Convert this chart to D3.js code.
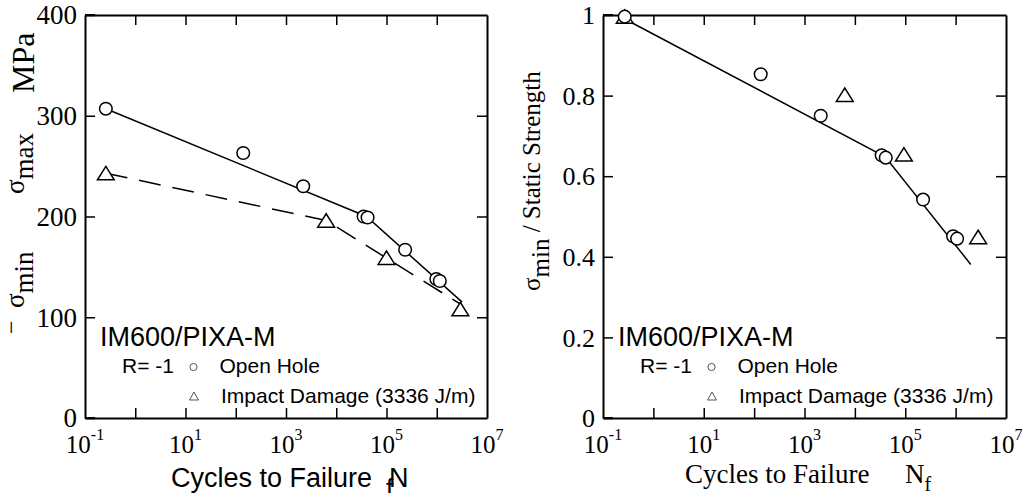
<!DOCTYPE html>
<html>
<head>
<meta charset="utf-8">
<script src="https://cdn.jsdelivr.net/npm/d3@7"></script>
<style>
  body { margin: 0; background: #fff; }
  svg { display: block; }
</style>
</head>
<body>
<svg id="chart" width="1027" height="493"></svg>
<script>
// ---- data ----
// left: stress amplitude (MPa) vs cycles to failure
const leftOpenN = [0.26, 141, 2200, 35000, 42000, 235000, 980000, 1150000];
const leftOpenS = [307, 263, 230, 200, 199, 167, 138, 136];
const leftImpactN = [0.26, 6300, 100000, 2950000];
const leftImpactS = [243, 196, 159, 108];
const leftOpenFitN = [0.26, 40000, 3200000];
const leftOpenFitS = [307, 200, 115];
const leftImpactFitN = [0.26, 6300, 3200000];
const leftImpactFitS = [243, 196, 112];

// right: normalised strength vs cycles to failure
const rightOpenN = [0.27, 135, 2100, 34000, 41000, 226000, 890000, 1070000];
const rightOpenR = [0.996, 0.853, 0.750, 0.652, 0.646, 0.542, 0.451, 0.445];
const rightImpactN = [0.27, 6300, 94000, 2800000];
const rightImpactR = [0.996, 0.802, 0.654, 0.449];
const rightFitN = [0.27, 40000, 2000000];
const rightFitR = [0.99, 0.648, 0.381];

const xDecades = [1, 10, 100, 1e3, 1e4, 1e5, 1e6];
const xLabelExp = [-1, 1, 3, 5, 7];
const leftYTicks = [0, 100, 200, 300, 400];
const leftYLabels = ['0', '100', '200', '300', '400'];
const rightYTicks = [0, 0.2, 0.4, 0.6, 0.8, 1];
const rightYLabels = ['0', '0.2', '0.4', '0.6', '0.8', '1'];

const serif = '"Liberation Serif", "Times New Roman", serif';
const sans = '"Liberation Sans", Arial, sans-serif';
const plotTop = 15, plotBottom = 418;

const svg = d3.select('#chart');

function zip(a, b) { return a.map((v, i) => [v, b[i]]); }

function panel(o) {
  const x = d3.scaleLog().domain([0.1, 1e7]).range([o.left, o.right]);
  const y = d3.scaleLinear().domain(o.yDomain).range([plotBottom, plotTop]);
  const g = svg.append('g');

  // frame + inward ticks on all four sides
  const axes = [
    [d3.axisBottom(x).tickValues(xDecades), `translate(0,${plotBottom})`],
    [d3.axisTop(x).tickValues(xDecades), `translate(0,${plotTop})`],
    [d3.axisLeft(y).tickValues(o.yTicks), `translate(${o.left},0)`],
    [d3.axisRight(y).tickValues(o.yTicks.slice(1, -1)), `translate(${o.right},0)`]
  ];
  axes.forEach(([ax, tr]) => {
    const a = g.append('g').attr('transform', tr)
      .call(ax.tickSizeInner(-10).tickSizeOuter(0).tickFormat(''));
    a.select('.domain').attr('stroke', '#000').attr('stroke-width', 2);
    a.selectAll('.tick line').attr('stroke', '#000').attr('stroke-width', 1.5);
    a.selectAll('.tick text').remove();
  });
  // short heavier ticks at the left corners
  g.selectAll('.cornerTick').data([o.yDomain[0], o.yDomain[1]]).enter().append('line')
    .attr('x1', o.left).attr('x2', o.left + 10)
    .attr('y1', d => y(d)).attr('y2', d => y(d))
    .attr('stroke', '#000').attr('stroke-width', 2);

  // x tick labels 10^n
  const xl = g.selectAll('.xlab').data(xLabelExp).enter().append('text')
    .attr('x', d => x(Math.pow(10, d))).attr('y', 453)
    .attr('text-anchor', 'middle')
    .style('font-family', serif).style('font-size', '25px');
  xl.append('tspan').text('10');
  xl.append('tspan').attr('dy', -13).style('font-size', '16px').text(d => d < 0 ? '-' + Math.abs(d) : d);

  // y tick labels
  g.selectAll('.ylab').data(o.yTicks).enter().append('text')
    .attr('x', o.left - 8).attr('y', d => y(d)).attr('dy', '0.35em')
    .attr('text-anchor', 'end')
    .style('font-family', serif).style('font-size', o.yFont)
    .text((d, i) => o.yLabels[i]);

  // fitted lines
  const line = d3.line().x(d => x(d[0])).y(d => y(d[1]));
  o.fits.forEach(f => {
    g.append('path').attr('d', line(f.pts))
      .attr('fill', 'none').attr('stroke', '#000').attr('stroke-width', 1.5)
      .attr('stroke-dasharray', f.dash || null);
  });

  // markers
  g.selectAll('.tri').data(o.impact).enter().append('path')
    .attr('d', d => {
      const cx = x(d[0]), cy = y(d[1]);
      return `M${cx},${cy - 6.8}L${cx + 8.4},${cy + 6.6}L${cx - 8.4},${cy + 6.6}Z`;
    })
    .attr('fill', '#fff').attr('stroke', '#000').attr('stroke-width', 1.5);
  g.selectAll('.circ').data(o.open).enter().append('circle')
    .attr('cx', d => x(d[0])).attr('cy', d => y(d[1])).attr('r', 6.3)
    .attr('fill', '#fff').attr('stroke', '#000').attr('stroke-width', 1.5);

  // legend
  const L = o.left;
  g.append('text').attr('x', L + 15).attr('y', 346)
    .style('font-family', sans).style('font-size', '27px').text('IM600/PIXA-M');
  g.append('text').attr('x', L + 37).attr('y', 373)
    .style('font-family', sans).style('font-size', '21px').text('R= -1');
  g.append('circle').attr('cx', L + 108.5).attr('cy', 367).attr('r', 3.6)
    .attr('fill', 'none').attr('stroke', '#555').attr('stroke-width', 1);
  g.append('text').attr('x', L + 134.5).attr('y', 373)
    .style('font-family', sans).style('font-size', '21px').text('Open Hole');
  g.append('path')
    .attr('d', `M${L + 109},${392}L${L + 113.5},${400}L${L + 104.5},${400}Z`)
    .attr('fill', 'none').attr('stroke', '#555').attr('stroke-width', 1);
  g.append('text').attr('x', L + 136).attr('y', 403)
    .style('font-family', sans).style('font-size', '21px').text('Impact Damage (3336 J/m)');

  return g;
}

// ---- left panel ----
const gl = panel({
  left: 85, right: 487,
  yDomain: [0, 400], yTicks: leftYTicks, yLabels: leftYLabels, yFont: '27px',
  open: zip(leftOpenN, leftOpenS),
  impact: zip(leftImpactN, leftImpactS),
  fits: [
    { pts: zip(leftOpenFitN, leftOpenFitS) },
    { pts: zip(leftImpactFitN, leftImpactFitS), dash: '22,12' }
  ]
});

// left y label: − σmin   σmax   MPa (rotated)
gl.append('text').attr('transform', 'translate(19,334) rotate(-90)')
  .style('font-family', serif).style('font-size', '24px').text('\u2212');
const smin = gl.append('text').attr('transform', 'translate(24,308) rotate(-90)')
  .style('font-family', serif).style('font-size', '27px');
smin.append('tspan').text('\u03c3');
smin.append('tspan').attr('dy', 9).text('min');
const smax = gl.append('text').attr('transform', 'translate(24,194) rotate(-90)')
  .style('font-family', serif).style('font-size', '27px');
smax.append('tspan').text('\u03c3');
smax.append('tspan').attr('dy', 9).text('max');
gl.append('text').attr('transform', 'translate(34,93) rotate(-90)')
  .style('font-family', serif).style('font-size', '32px').text('MPa');

// left x label (sans)
gl.append('text').attr('x', 171).attr('y', 487)
  .style('font-family', sans).style('font-size', '27px').text('Cycles to Failure');
gl.append('text').attr('x', 389).attr('y', 487)
  .style('font-family', sans).style('font-size', '27px').text('N');
gl.append('text').attr('x', 386).attr('y', 497)
  .style('font-family', sans).style('font-size', '26px').text('f');

// ---- right panel ----
const gr = panel({
  left: 603, right: 1006,
  yDomain: [0, 1], yTicks: rightYTicks, yLabels: rightYLabels, yFont: '26px',
  open: zip(rightOpenN, rightOpenR),
  impact: zip(rightImpactN, rightImpactR),
  fits: [{ pts: zip(rightFitN, rightFitR) }]
});

const rl = gr.append('text').attr('transform', 'translate(540,291) rotate(-90)')
  .style('font-family', serif).style('font-size', '25px');
rl.append('tspan').text('\u03c3');
rl.append('tspan').attr('dy', 9).text('min');
rl.append('tspan').attr('dy', -9).text(' / Static Strength');

const rx = gr.append('text').attr('x', 685).attr('y', 483)
  .style('font-family', serif).style('font-size', '27px');
rx.append('tspan').text('Cycles to Failure');
rx.append('tspan').attr('x', 905).text('N');
rx.append('tspan').attr('dy', 8).style('font-size', '20px').text('f');
</script>
</body>
</html>
